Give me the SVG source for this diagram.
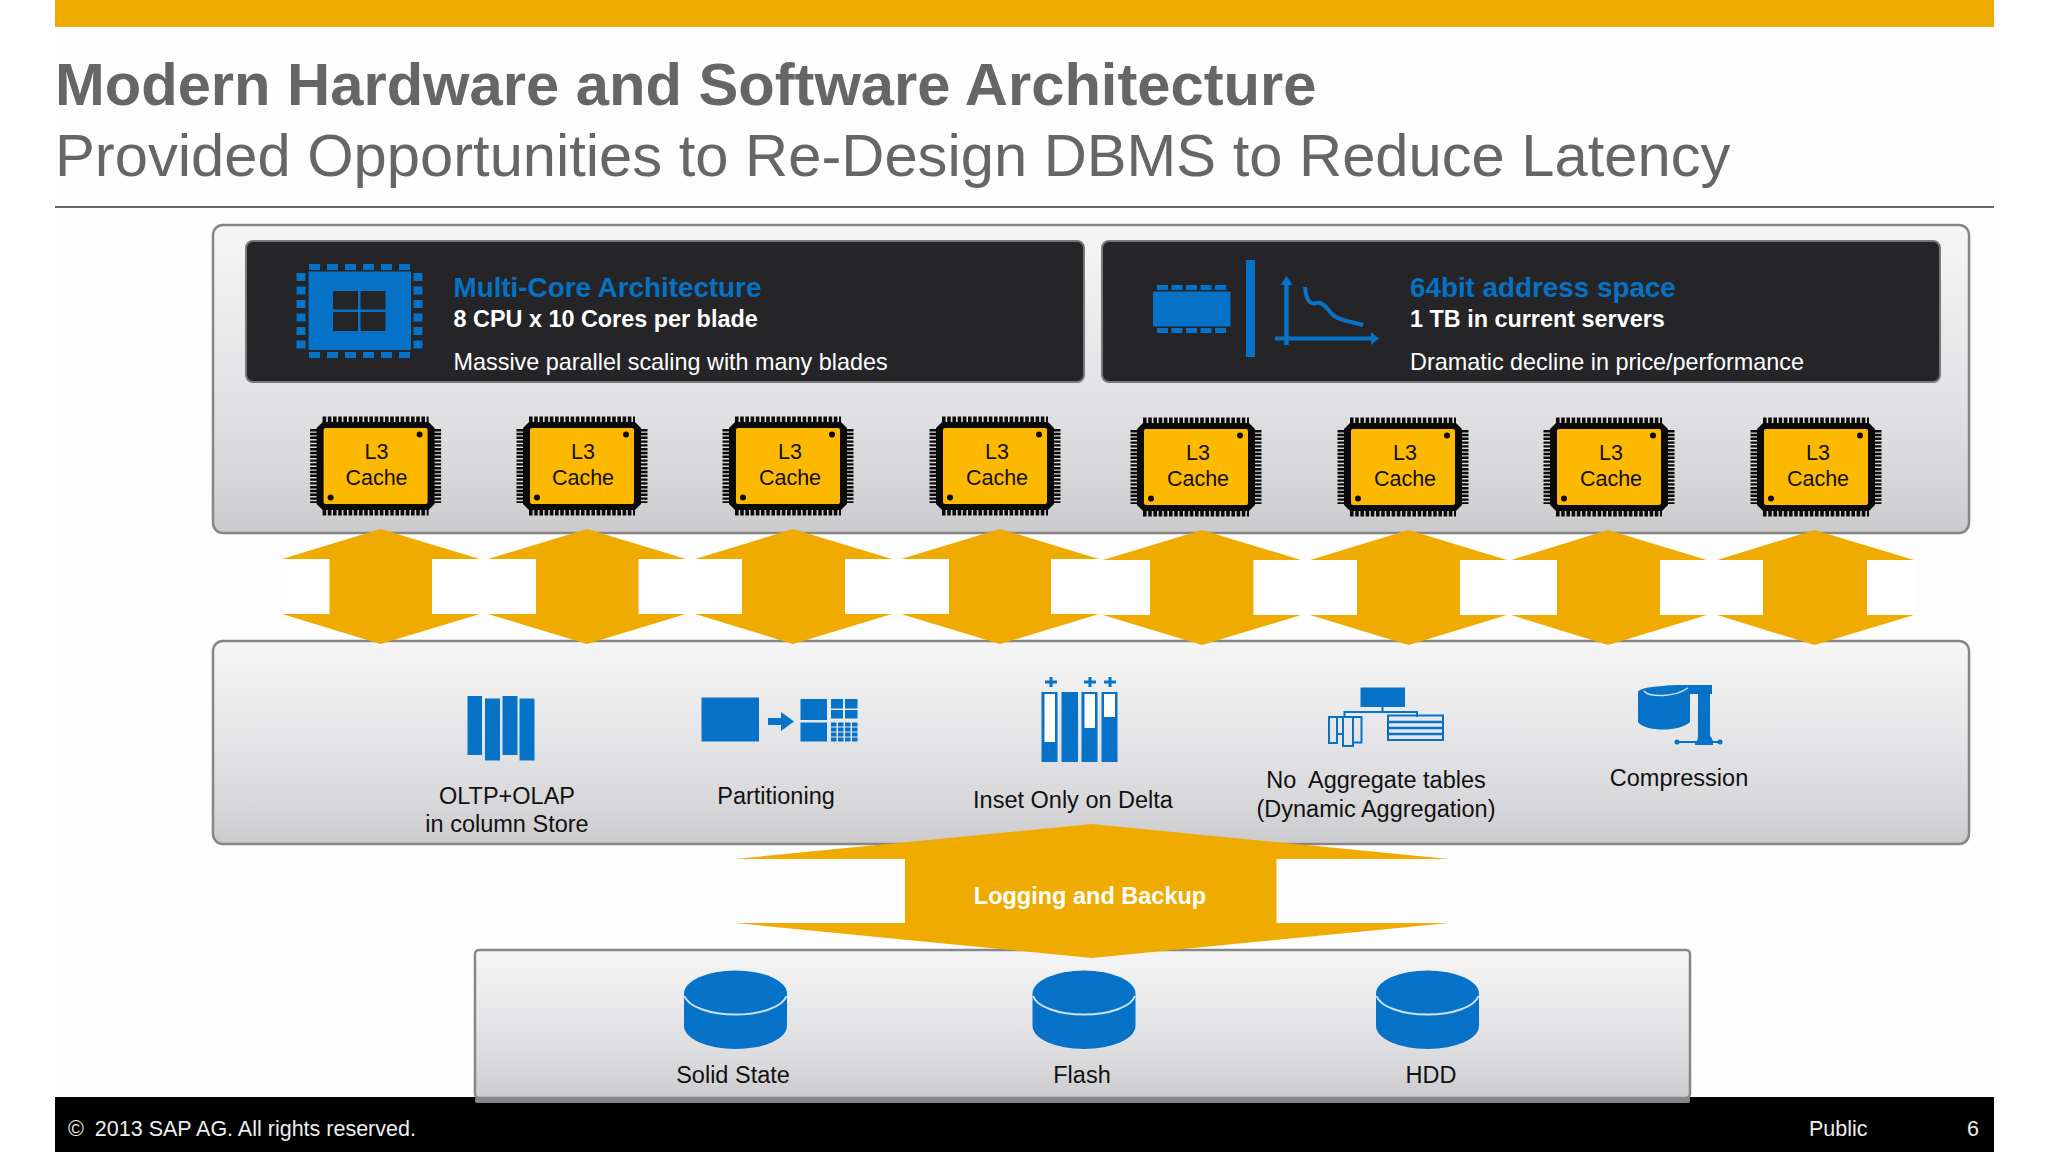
<svg xmlns="http://www.w3.org/2000/svg" width="2048" height="1152" viewBox="0 0 2048 1152">
<style>
text{font-family:"Liberation Sans",Arial,sans-serif}
.panel{fill:url(#pg);stroke:#868688;stroke-width:2.5}
.dark{fill:#252527;stroke:#78787a;stroke-width:2}
.blue{fill:#0672c8}
.gold{fill:#f0ab00}
.h{font-size:27.8px;font-weight:700;fill:#0672c4}
.b{font-size:23.4px;font-weight:700;fill:#fff}
.w{font-size:23.4px;fill:#fff}
.l{font-size:23.5px;fill:#111;text-anchor:middle}
.c{font-size:21.5px;fill:#111;text-anchor:middle}
.f{font-size:21.5px;fill:#eee}
.ln{fill:none;stroke:#0672c8}
</style>
<defs>
<linearGradient id="pg" x1="0" y1="0" x2="0" y2="1">
<stop offset="0" stop-color="#f6f6f6"/><stop offset=".5" stop-color="#e4e4e6"/><stop offset=".8" stop-color="#d8d8da"/><stop offset="1" stop-color="#cbcbcd"/>
</linearGradient>
<g id="chip">
<path d="M-53 -44H53L59 -38V38L53 44H-53L-59 38V-38Z" fill="#0a0a0a"/>
<line x1="-53" x2="53" y1="0" y2="0" transform="translate(0,-44.5)" stroke="#0a0a0a" stroke-width="10" stroke-dasharray="3.600 1.600"/>
<line x1="-53" x2="53" y1="0" y2="0" transform="translate(0,44.5)" stroke="#0a0a0a" stroke-width="10" stroke-dasharray="3.600 1.600"/>
<line x1="-60" x2="-60" y1="-37" y2="37" stroke="#0a0a0a" stroke-width="11" stroke-dasharray="2.400 1.400"/>
<line x1="60" x2="60" y1="-37" y2="37" stroke="#0a0a0a" stroke-width="11" stroke-dasharray="2.400 1.400"/>
<rect x="-52" y="-38" width="104" height="76" rx="2" fill="#fdb900"/>
<circle cx="44" cy="-31.5" r="3" fill="#0a0a0a"/><circle cx="-45" cy="31.5" r="3" fill="#0a0a0a"/>
</g>
<g id="cyl">
<path d="M-51.500 993.500A51.500 23 0 0 1 51.500 993.500V1026A51.500 23 0 0 1 -51.500 1026Z" class="blue"/>
<path d="M-51 996A51.500 21.500 0 0 0 51 996" fill="none" stroke="#cfe2f3" stroke-width="2"/>
</g>
</defs>
<rect width="2048" height="1152" fill="#fff"/>
<rect x="55" y="27" width="1939" height="1080" fill="#fdfdfd"/>
<rect x="55" width="1939" height="27" class="gold"/>
<text x="55" y="105" font-size="59.700" font-weight="700" fill="#666668">Modern Hardware and Software Architecture</text>
<text x="55" y="176" font-size="59.700" fill="#666668">Provided Opportunities to Re-Design DBMS to Reduce Latency</text>
<rect x="55" y="206" width="1939" height="2" fill="#666"/>
<rect x="55" y="1097" width="1939" height="55" fill="#000"/>
<text x="68" y="1136" class="f">© <tspan dx="5">2013 SAP AG. All rights reserved.</tspan></text>
<text x="1809" y="1136" class="f">Public</text>
<text x="1967" y="1136" class="f">6</text>

<g id="panel-processors">
<rect x="213" y="225" width="1756" height="308" rx="10" class="panel"/>
</g>
<g id="multicore">
<rect x="246" y="241" width="838" height="141" rx="7" class="dark"/>
<g class="blue">
<rect x="308.500" y="271.500" width="102.500" height="78.500"/>
<path d="M309 264h11v6h-11zM327 264h11v6h-11zM345 264h11v6h-11zM363 264h11v6h-11zM381 264h11v6h-11zM399 264h11v6h-11zM309 352h11v6h-11zM327 352h11v6h-11zM345 352h11v6h-11zM363 352h11v6h-11zM381 352h11v6h-11zM399 352h11v6h-11z"/>
<path d="M296.500 273h9v8h-9zM296.500 286.500h9v8h-9zM296.500 300h9v8h-9zM296.500 313.500h9v8h-9zM296.500 327h9v8h-9zM296.500 340.500h9v8h-9zM413.500 273h9v8h-9zM413.500 286.500h9v8h-9zM413.500 300h9v8h-9zM413.500 313.500h9v8h-9zM413.500 327h9v8h-9zM413.500 340.500h9v8h-9z"/>
</g>
<path d="M333 291h25v18.500h-25zM360.500 291h25v18.500h-25zM333 312h25v19h-25zM360.500 312h25v19h-25z" fill="#252527"/>
<text x="453.500" y="297" class="h">Multi-Core Architecture</text>
<text x="453.500" y="327" class="b">8 CPU x 10 Cores per blade</text>
<text x="453.500" y="370" class="w">Massive parallel scaling with many blades</text>
</g>
<g id="address-space">
<rect x="1102" y="241" width="838" height="141" rx="7" class="dark"/>
<g class="blue">
<rect x="1153" y="291.500" width="77.500" height="35" rx="1"/>
<path d="M1157 285h11v5h-11zM1171.500 285h11v5h-11zM1186 285h11v5h-11zM1200.500 285h11v5h-11zM1215 285h11v5h-11zM1157 328h11v5h-11zM1171.500 328h11v5h-11zM1186 328h11v5h-11zM1200.500 328h11v5h-11zM1215 328h11v5h-11z"/>
<rect x="1246" y="260" width="9" height="97"/>
<path d="M1286.500 276l6 9h-3.800v60h-4.500v-60h-3.700zM1275 336.500h96v-4.500l8 6.500l-8 6.500v-4.500h-96z"/>
</g>
<path d="M1305 287C1306 300 1310 305 1316 303C1323 301 1328 310 1332 314C1337 320 1352 322 1363 325" class="ln" stroke-width="4"/>
<text x="1410" y="297" class="h">64bit address space</text>
<text x="1410" y="327" class="b">1 TB in current servers</text>
<text x="1410" y="370" class="w">Dramatic decline in price/performance</text>
</g>
<g id="chip-1"><use href="#chip" x="375.600" y="466"/><text x="376.500" y="459" class="c">L3</text><text x="376.500" y="484.500" class="c">Cache</text></g>
<g id="chip-2"><use href="#chip" x="582" y="466"/><text x="583" y="459" class="c">L3</text><text x="583" y="484.500" class="c">Cache</text></g>
<g id="chip-3"><use href="#chip" x="788" y="466"/><text x="790" y="459" class="c">L3</text><text x="790" y="484.500" class="c">Cache</text></g>
<g id="chip-4"><use href="#chip" x="995" y="466"/><text x="997" y="459" class="c">L3</text><text x="997" y="484.500" class="c">Cache</text></g>
<g id="chip-5"><use href="#chip" x="1196" y="467"/><text x="1198" y="460" class="c">L3</text><text x="1198" y="485.500" class="c">Cache</text></g>
<g id="chip-6"><use href="#chip" x="1403" y="467"/><text x="1405" y="460" class="c">L3</text><text x="1405" y="485.500" class="c">Cache</text></g>
<g id="chip-7"><use href="#chip" x="1609" y="467"/><text x="1611" y="460" class="c">L3</text><text x="1611" y="485.500" class="c">Cache</text></g>
<g id="chip-8"><use href="#chip" x="1816" y="467"/><text x="1818" y="460" class="c">L3</text><text x="1818" y="485.500" class="c">Cache</text></g>

<g id="panel-features">
<rect x="213" y="641" width="1756" height="203" rx="10" class="panel"/>
</g>
<g id="feature-column">
<g class="blue"><rect x="467.500" y="696" width="14.500" height="59"/><rect x="485" y="698.500" width="15" height="62"/><rect x="502.500" y="696" width="15" height="59"/><rect x="519.500" y="698.500" width="15" height="62"/></g>
<text x="507" y="804" class="l">OLTP+OLAP</text><text x="507" y="832" class="l">in column Store</text>
</g>
<g id="feature-partitioning">
<g class="blue">
<rect x="701.500" y="697.500" width="57.500" height="44"/>
<path d="M768 718h13v-6l13 9.500l-13 9.500v-6h-13z"/>
<rect x="800.500" y="699" width="26.500" height="21"/><rect x="800.500" y="722.500" width="26.500" height="19"/>
<path d="M831 699h12v9.500h-12zM845 699h12.500v9.500h-12.500zM831 710h12v8.500h-12zM845 710h12.500v8.500h-12.500z"/>
<path d="M831 722.500h5.500v4h-5.500zM838 722.500h5.500v4h-5.500zM845 722.500h5.500v4h-5.500zM852 722.500h5.500v4h-5.500zM831 727.500h5.500v4h-5.500zM838 727.500h5.500v4h-5.500zM845 727.500h5.500v4h-5.500zM852 727.500h5.500v4h-5.500zM831 732.500h5.500v4h-5.500zM838 732.500h5.500v4h-5.500zM845 732.500h5.500v4h-5.500zM852 732.500h5.500v4h-5.500zM831 737.500h5.500v4h-5.500zM838 737.500h5.500v4h-5.500zM845 737.500h5.500v4h-5.500zM852 737.500h5.500v4h-5.500z"/>
</g>
<text x="776" y="804" class="l">Partitioning</text>
</g>
<g id="feature-delta">
<g class="blue">
<rect x="1041.500" y="692" width="16" height="70"/><rect x="1061.500" y="692" width="16.500" height="70"/><rect x="1081.500" y="692" width="16" height="70"/><rect x="1101.500" y="692" width="16" height="70"/>
<path d="M1049.500 677h3v3.500h4.500v3h-4.500v3.500h-3v-3.500h-4.500v-3h4.500zM1088.500 677h3v3.500h4.500v3h-4.500v3.500h-3v-3.500h-4.500v-3h4.500zM1108.500 677h3v3.500h4.500v3h-4.500v3.500h-3v-3.500h-4.500v-3h4.500z"/>
</g>
<rect x="1044.500" y="694" width="10.500" height="48" fill="#fff"/><rect x="1084.500" y="694" width="10.500" height="34" fill="#fff"/><rect x="1104" y="694" width="11" height="23" fill="#fff"/>
<text x="1073" y="808" class="l">Inset Only on Delta</text>
</g>
<g id="feature-aggregate">
<rect x="1360.500" y="687.500" width="44.500" height="19.500" class="blue"/>
<path d="M1382.500 707v5M1344.500 718v-6H1417v5" class="ln" stroke-width="2"/>
<path d="M1329 717h8v26h-8zM1337 717h6v17h-6zM1343 717h10v29h-10zM1353 717h8.500v25.500h-8.500z" class="ln" stroke-width="2"/>
<rect x="1388" y="715.500" width="55" height="24.500" class="ln" stroke-width="2"/>
<path d="M1388 722h55M1388 728h55M1388 734h55" class="ln" stroke-width="2.500"/>
<text x="1376" y="788" class="l" xml:space="preserve">No  Aggregate tables</text><text x="1376" y="817" class="l">(Dynamic Aggregation)</text>
</g>
<g id="feature-compression">
<g class="blue">
<path d="M1638 692C1640 686 1680 684 1690 687V722C1680 732 1645 732 1638 722Z"/>
<path d="M1664 685H1712V694H1710V736C1712 738 1712 739 1713 741H1721V743H1713V745H1695V743H1675V741H1697C1698 738 1698 736 1698 733V694H1690V687Z"/>
<circle cx="1677" cy="742" r="2.500"/><circle cx="1720" cy="742" r="2.500"/>
</g>
<path d="M1644 691C1650 698 1675 697 1688 688" fill="none" stroke="#cfe0ee" stroke-width="1.500"/>
<text x="1679" y="786" class="l">Compression</text>
</g>
<g id="panel-storage">
<rect x="475" y="950" width="1215" height="148" rx="4" class="panel"/>
<rect x="475" y="1097" width="1215" height="6" rx="2" fill="#858587"/>
</g>
<g id="storage-solid"><use href="#cyl" x="735.500"/><text x="733" y="1083" class="l">Solid State</text></g>
<g id="storage-flash"><use href="#cyl" x="1084"/><text x="1082" y="1083" class="l">Flash</text></g>
<g id="storage-hdd"><use href="#cyl" x="1427.500"/><text x="1431" y="1083" class="l">HDD</text></g>

<g id="connectors">
<rect x="282" y="559" width="1632" height="56" fill="#fff"/>
<g class="gold">
<path d="M380.500 529L480 559H432V614H480L380.500 644L282 614H329.500V559H282Z"/>
<path d="M587 529L686 559H638.500V614H686L587 644L488 614H536V559H488Z"/>
<path d="M793 529L892 559H845V614H892L793 644L695 614H742V559H695Z"/>
<path d="M1000 529L1099 559H1051V614H1099L1000 644L901 614H949V559H901Z"/>
<path d="M1202 530L1301 560H1253.500V615H1301L1202 645L1103 615H1150V560H1103Z"/>
<path d="M1408.500 530L1507 560H1460V615H1507L1408.500 645L1310 615H1357V560H1310Z"/>
<path d="M1608 530L1707 560H1660V615H1707L1608 645L1511 615H1557V560H1511Z"/>
<path d="M1814.500 530L1914 560H1867V615H1914L1814.500 645L1717 615H1763V560H1717Z"/>
<path d="M1091.500 824L1449 859H1276.500V923H1449L1091.500 958L735 923H905V859H735Z"/>
</g>
<text x="1090" y="904" font-size="23.500" font-weight="700" fill="#fff" text-anchor="middle">Logging and Backup</text>
</g>
</svg>
